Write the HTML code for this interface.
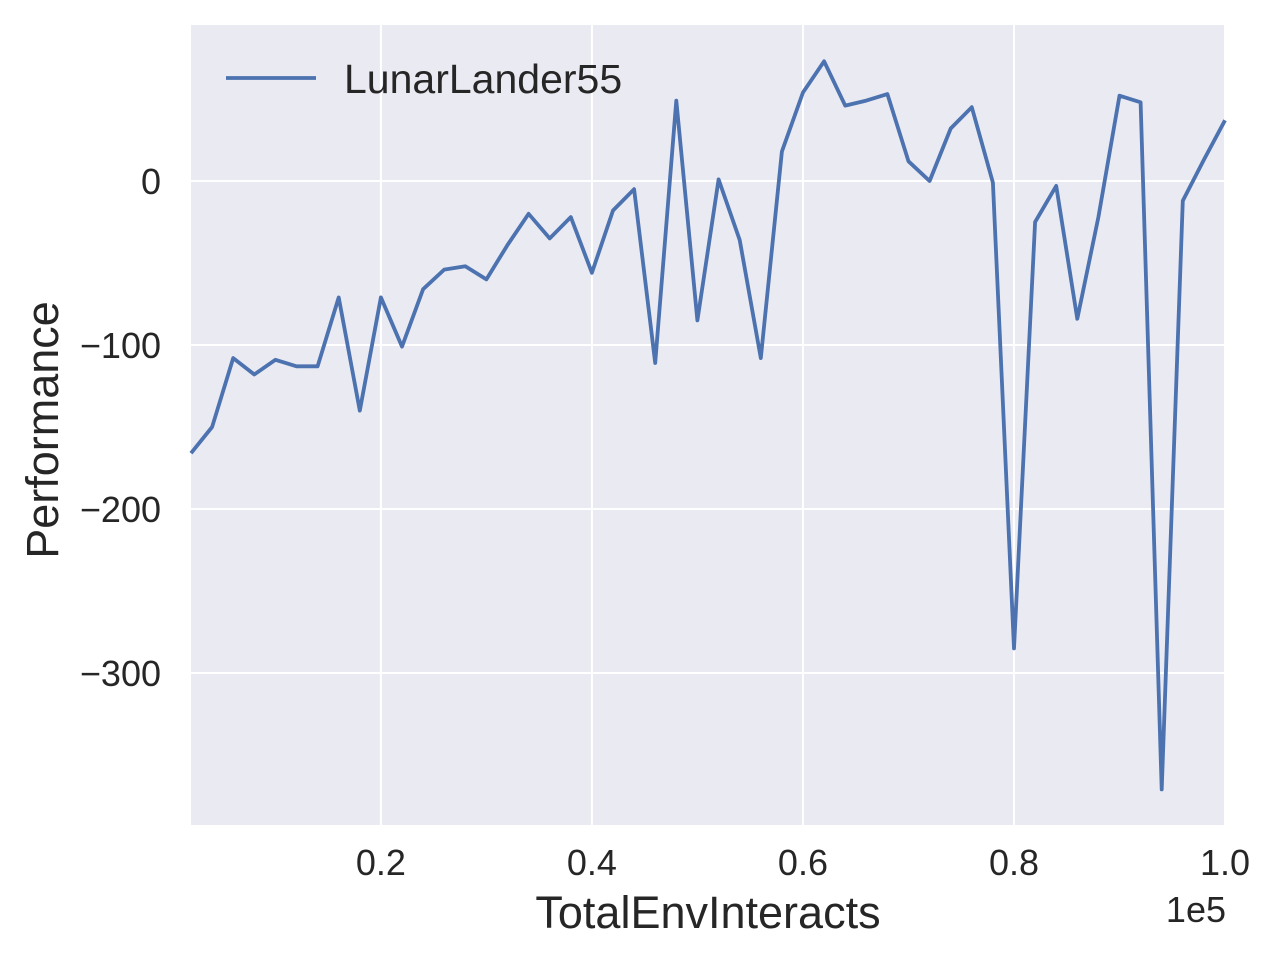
<!DOCTYPE html>
<html><head><meta charset="utf-8"><style>
body{margin:0;background:#fff;}
svg{display:block;font-family:"Liberation Sans",sans-serif;}
</style></head><body>
<svg id="chart" width="1280" height="960">
<rect x="191" y="25" width="1034" height="800" fill="#EAEAF2"/>
<g id="grid"></g><g id="ticks"></g>
<path id="line" fill="none" stroke="#4C72B0" stroke-width="3.8" stroke-linejoin="round"/>
<g>
<line x1="226" y1="78" x2="316" y2="78" stroke="#4C72B0" stroke-width="3.8"/>
<text x="344" y="93" font-size="41" fill="#262626">LunarLander55</text>
</g>
<text x="708" y="928" font-size="45" fill="#262626" text-anchor="middle">TotalEnvInteracts</text>
<text x="1226" y="922" font-size="36" fill="#262626" text-anchor="end">1e5</text>
<text transform="translate(58,430) rotate(-90)" font-size="45" fill="#262626" text-anchor="middle">Performance</text>
</svg>
<script>
const xValues=[0.02,0.04,0.06,0.08,0.10,0.12,0.14,0.16,0.18,0.20,0.22,0.24,0.26,0.28,0.30,0.32,0.34,0.36,0.38,0.40,0.42,0.44,0.46,0.48,0.50,0.52,0.54,0.56,0.58,0.60,0.62,0.64,0.66,0.68,0.70,0.72,0.74,0.76,0.78,0.80,0.82,0.84,0.86,0.88,0.90,0.92,0.94,0.96,0.98,1.00];
const perf=[-166,-150,-108,-118,-109,-113,-113,-71,-140,-71,-101,-66,-54,-52,-60,-39,-20,-35,-22,-56,-18,-5,-111,49,-85,1,-36,-108,18,54,73,46,49,53,12,0,32,45,-1,-285,-25,-3,-84,-22,52,48,-371,-12,13,37];
const xTicks=[0.2,0.4,0.6,0.8,1.0];
const xTickLabels=["0.2","0.4","0.6","0.8","1.0"];
const yTicks=[0,-100,-200,-300];
const yTickLabels=["0","\u2212100","\u2212200","\u2212300"];
const X=v=>191+(v-0.02)/0.98*1034;
const Y=v=>181-v*1.64;
const ns="http://www.w3.org/2000/svg";
const grid=document.getElementById('grid'),ticks=document.getElementById('ticks');
xTicks.forEach((t,i)=>{
 const l=document.createElementNS(ns,'line');
 l.setAttribute('x1',X(t));l.setAttribute('x2',X(t));l.setAttribute('y1',25);l.setAttribute('y2',825);
 l.setAttribute('stroke','#fff');l.setAttribute('stroke-width','2');
 
 
 grid.appendChild(l);
 const tx=document.createElementNS(ns,'text');
 tx.setAttribute('x',X(t));tx.setAttribute('y',875);tx.setAttribute('font-size','36');tx.setAttribute('fill','#262626');tx.setAttribute('text-anchor','middle');
 tx.textContent=xTickLabels[i];
 
 
 ticks.appendChild(tx);
});
yTicks.forEach((t,i)=>{
 const l=document.createElementNS(ns,'line');
 l.setAttribute('x1',191);l.setAttribute('x2',1225);l.setAttribute('y1',Y(t));l.setAttribute('y2',Y(t));
 l.setAttribute('stroke','#fff');l.setAttribute('stroke-width','2');
 
 
 grid.appendChild(l);
 const tx=document.createElementNS(ns,'text');
 tx.setAttribute('x',161);tx.setAttribute('y',Y(t)+13);tx.setAttribute('font-size','36');tx.setAttribute('fill','#262626');tx.setAttribute('text-anchor','end');
 tx.textContent=yTickLabels[i];
 
 
 ticks.appendChild(tx);
});
document.getElementById('line').setAttribute('d',xValues.map((x,i)=>(i?'L':'M')+X(x).toFixed(1)+','+Y(perf[i]).toFixed(1)).join(''));
</script>
</body></html>
